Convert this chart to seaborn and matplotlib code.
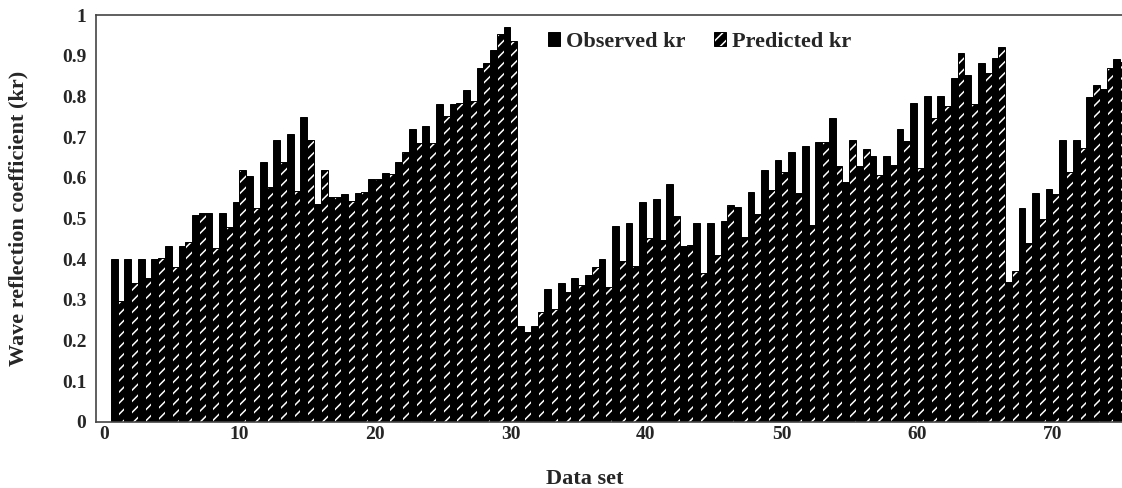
import matplotlib
matplotlib.use("Agg")
import matplotlib.pyplot as plt
import seaborn as sns
import pandas as pd
import numpy as np

data_set = list(range(1, 76))
observed_kr = [0.400, 0.400, 0.400, 0.400, 0.432, 0.432, 0.509, 0.513, 0.513, 0.540,
               0.605, 0.638, 0.694, 0.707, 0.750, 0.536, 0.552, 0.559, 0.562, 0.597,
               0.611, 0.638, 0.721, 0.727, 0.781, 0.781, 0.816, 0.871, 0.914, 0.971,
               0.237, 0.237, 0.328, 0.341, 0.355, 0.361, 0.400, 0.482, 0.488, 0.540,
               0.547, 0.584, 0.433, 0.488, 0.488, 0.494, 0.529, 0.564, 0.618, 0.644,
               0.663, 0.677, 0.687, 0.748, 0.590, 0.629, 0.654, 0.654, 0.721, 0.783,
               0.801, 0.801, 0.844, 0.853, 0.883, 0.895, 0.345, 0.525, 0.563, 0.572,
               0.693, 0.693, 0.799, 0.817, 0.891]
predicted_kr = [0.297, 0.341, 0.355, 0.402, 0.382, 0.443, 0.513, 0.428, 0.478, 0.619,
                0.527, 0.578, 0.638, 0.568, 0.694, 0.619, 0.552, 0.544, 0.564, 0.597,
                0.609, 0.664, 0.686, 0.685, 0.753, 0.783, 0.789, 0.881, 0.953, 0.937,
                0.222, 0.271, 0.277, 0.319, 0.337, 0.382, 0.331, 0.396, 0.384, 0.451,
                0.446, 0.507, 0.435, 0.367, 0.410, 0.532, 0.455, 0.510, 0.570, 0.615,
                0.563, 0.484, 0.687, 0.629, 0.694, 0.670, 0.607, 0.631, 0.690, 0.623,
                0.746, 0.776, 0.906, 0.781, 0.857, 0.921, 0.372, 0.441, 0.499, 0.561,
                0.615, 0.672, 0.828, 0.869, 0.885]
series_names = ["Observed kr", "Predicted kr"]
x_ticks = [0, 10, 20, 30, 40, 50, 60, 70]
y_ticks = [0, 0.1, 0.2, 0.3, 0.4, 0.5, 0.6, 0.7, 0.8, 0.9, 1.0]
y_tick_labels = ["0", "0.1", "0.2", "0.3", "0.4", "0.5", "0.6", "0.7", "0.8", "0.9", "1"]

df = pd.DataFrame({
    "Data set": data_set * 2,
    "kr": observed_kr + predicted_kr,
    "Series": [series_names[0]] * len(data_set) + [series_names[1]] * len(data_set),
})

sns.set_style("white")
plt.rcParams['font.family'] = ['Liberation Serif', 'DejaVu Serif']
plt.rcParams['font.weight'] = 'bold'
plt.rcParams['hatch.linewidth'] = 1.1

fig = plt.figure(figsize=(11.22, 4.88), dpi=100)
ax = fig.add_axes([96 / 1122, (488 - 422) / 488, (1122 - 96) / 1122, (422 - 15) / 488])

sns.barplot(data=df, x="Data set", y="kr", hue="Series", hue_order=series_names,
            palette=["black", "black"], native_scale=True, width=1.0, dodge=True,
            saturation=1, edgecolor="black", linewidth=0.7, errorbar=None,
            legend=False, ax=ax)

for p in ax.containers[1]:
    p.set_facecolor("black")
    p.set_edgecolor("black")
    p.set_hatch("///")
    p._hatch_color = (1.0, 1.0, 1.0, 1.0)

ax.set_xlim(-0.59, 75.13)
ax.set_ylim(0, 1)
ax.set_xticks(x_ticks)
ax.set_xticklabels([str(t) for t in x_ticks], fontsize=14, fontweight='bold')
ax.set_yticks(y_ticks)
ax.set_yticklabels(y_tick_labels, fontsize=14, fontweight='bold')
ax.tick_params(axis='both', length=0)
ax.tick_params(axis='y', pad=7)
ax.tick_params(axis='x', pad=3)

for side in ["left", "top", "bottom"]:
    ax.spines[side].set_color("#444444")
    ax.spines[side].set_linewidth(1.2)
ax.spines["right"].set_visible(False)

ax.set_xlabel("Data set", fontsize=16, fontweight='bold')
ax.set_ylabel("Wave reflection coefficient (kr)", fontsize=16, fontweight='bold')
ax.xaxis.set_label_coords(0.476, -0.115)
ax.yaxis.set_label_coords(-0.066, 0.5)

handles = [ax.containers[0][0], ax.containers[1][0]]
leg = ax.legend(handles=handles, labels=series_names, ncol=2, frameon=False,
                loc="center left", bbox_to_anchor=(548 / 1122, 1 - 42 / 488),
                bbox_transform=fig.transFigure, borderpad=0, borderaxespad=0,
                handlelength=0.55, handleheight=0.55, handletextpad=0.25,
                columnspacing=1.3, prop={'size': 16, 'weight': 'bold'})

fig.savefig("out.png", dpi=100)
